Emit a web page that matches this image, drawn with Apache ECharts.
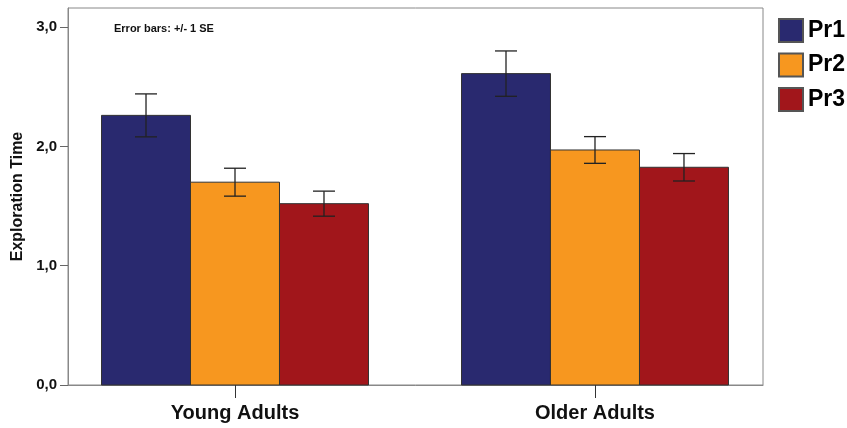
<!DOCTYPE html>
<html><head><meta charset="utf-8">
<script src="https://cdn.jsdelivr.net/npm/echarts@6/dist/echarts.min.js"></script>
<style>html,body{margin:0;padding:0;background:#fff}#c{width:847px;height:428px}</style>
</head><body><div id="c"></div>
<script>
var categories = ['Young Adults', 'Older Adults'];
var seriesNames = ['Pr1', 'Pr2', 'Pr3'];
var pr1Mean = [2.26, 2.61];
var pr1SE = [0.18, 0.19];
var pr2Mean = [1.70, 1.97];
var pr2SE = [0.117, 0.112];
var pr3Mean = [1.52, 1.825];
var pr3SE = [0.105, 0.115];
var yTicks = ['0,0', '1,0', '2,0', '3,0'];

var means = [pr1Mean, pr2Mean, pr3Mean];
var ses = [pr1SE, pr2SE, pr3SE];
var colors = ['#29296F', '#F7971F', '#A1161B'];
var barSpan = 0.2472;
var FONT = '"Liberation Sans", Arial, sans-serif';

function makeSeries(si) {
  var data = categories.map(function (c, i) { return [i, means[si][i], ses[si][i]]; });
  return {
    type: 'custom',
    name: seriesNames[si],
    itemStyle: { color: colors[si], borderColor: '#555', borderWidth: 0.8 },
    encode: { x: 0, y: 1 },
    data: data,
    renderItem: function (params, api) {
      var cat = api.value(0), m = api.value(1), se = api.value(2);
      var x0 = cat + (si - 1.5) * barSpan, x1 = x0 + barSpan, xc = (x0 + x1) / 2;
      var p0 = api.coord([x0, m]), p1 = api.coord([x1, 0]);
      var top = api.coord([xc, m + se]), bot = api.coord([xc, m - se]);
      var capHalf = 11;
      var ls = { stroke: '#222', lineWidth: 1.3 };
      return {
        type: 'group',
        children: [
          { type: 'rect', shape: { x: p0[0], y: p0[1], width: p1[0] - p0[0], height: p1[1] - p0[1] },
            style: { fill: colors[si], stroke: '#333', lineWidth: 1 } },
          { type: 'line', shape: { x1: top[0], y1: top[1], x2: bot[0], y2: bot[1] }, style: ls },
          { type: 'line', shape: { x1: top[0] - capHalf, y1: top[1], x2: top[0] + capHalf, y2: top[1] }, style: ls },
          { type: 'line', shape: { x1: bot[0] - capHalf, y1: bot[1], x2: bot[0] + capHalf, y2: bot[1] }, style: ls }
        ]
      };
    }
  };
}

var chart = echarts.init(document.getElementById('c'), null, { renderer: 'canvas' });
chart.setOption({
  animation: false,
  backgroundColor: '#fff',
  title: {
    text: 'Error bars: +/- 1 SE', left: 109, top: 18,
    textStyle: { fontFamily: FONT, fontSize: 11, fontWeight: 'bold', color: '#111' }
  },
  legend: {
    orient: 'vertical', left: 773, top: 13,
    itemWidth: 24, itemHeight: 23, itemGap: 9.5,
    icon: 'rect',
    data: seriesNames,
    textStyle: { fontFamily: FONT, fontSize: 23, fontWeight: 'bold', color: '#000' }
  },
  grid: {
    left: 68, right: 84, top: 8, bottom: 43,
    show: true, borderColor: '#888', borderWidth: 1
  },
  xAxis: {
    type: 'value', min: -0.4639, max: 1.4667,
    splitLine: { show: false },
    axisLine: { show: true, onZero: false, lineStyle: { color: '#888' } },
    axisTick: { show: true, customValues: [0, 1], length: 13, lineStyle: { color: '#333' } },
    axisLabel: {
      customValues: [0, 1], margin: 18,
      formatter: function (v) { return categories[Math.round(v)]; },
      fontFamily: FONT, fontSize: 20, fontWeight: 'bold', color: '#111'
    }
  },
  yAxis: {
    type: 'value', min: 0, max: 3.16, interval: 1,
    name: 'Exploration Time', nameLocation: 'middle', nameGap: 39,
    nameTextStyle: { fontFamily: FONT, fontSize: 16, fontWeight: 'bold', color: '#111' },
    splitLine: { show: false },
    axisLine: { show: true, onZero: false, lineStyle: { color: '#888' } },
    axisTick: { show: true, length: 8, customValues: [0, 1, 2, 3], lineStyle: { color: '#666' } },
    axisLabel: {
      margin: 11, customValues: [0, 1, 2, 3],
      formatter: function (v) { return yTicks[Math.round(v)]; },
      fontFamily: FONT, fontSize: 15, fontWeight: 'bold', color: '#111'
    }
  },
  series: [makeSeries(0), makeSeries(1), makeSeries(2)]
});
</script></body></html>
